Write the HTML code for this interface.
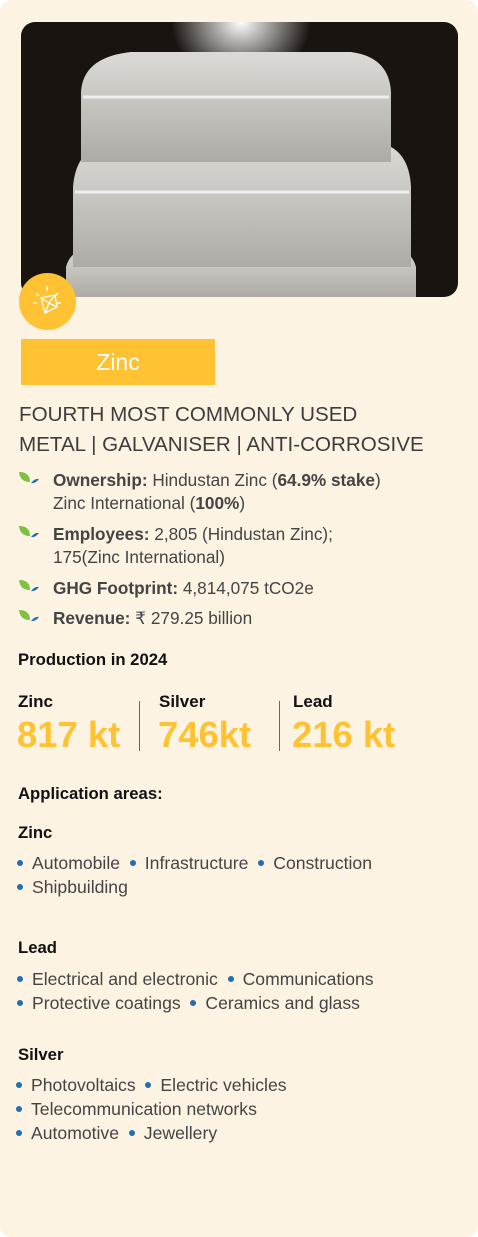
<!DOCTYPE html>
<html><head><meta charset="utf-8"><style>
body{margin:0;width:478px;height:1237px;background:#fff;font-family:"Liberation Sans",sans-serif;color:#3a3a3a;}
#card{position:absolute;left:0;top:0;width:478px;height:1237px;background:#fdf3e2;border-radius:12px;overflow:hidden}
.a{position:absolute;white-space:nowrap}
.t{font-size:17.2px;line-height:23px;color:#444}
.leaf{position:absolute;width:22px;height:14px}
.dot{display:inline-block;width:6px;height:6px;border-radius:50%;background:#1f6fb2;margin:0 9px 2px 0;vertical-align:middle}
.h{font-size:16.7px;font-weight:bold;color:#111}
.big{font-size:36.4px;font-weight:bold;color:#fec232}
.lbl{font-size:17px;font-weight:bold;color:#111}
.ap{font-size:17.6px;line-height:24px;color:#444}
</style></head><body>
<div id="card">
<svg class="a" style="left:21px;top:22px" width="437" height="275">
<defs><clipPath id="c"><rect width="437" height="275" rx="14"/></clipPath>
<radialGradient id="g" cx="0.5" cy="0" r="0.5"><stop offset="0" stop-color="#fff"/><stop offset="1" stop-color="#fff" stop-opacity="0"/></radialGradient>
<linearGradient id="m" x1="0" y1="0" x2="0" y2="1"><stop offset="0" stop-color="#dcdad6"/><stop offset="1" stop-color="#aeaba6"/></linearGradient></defs>
<g clip-path="url(#c)"><rect width="437" height="275" fill="#1a1411"/>
<rect x="150" y="0" width="140" height="120" fill="url(#g)"/>
<path d="M45 245 Q50 225 80 222 L360 222 Q390 225 395 245 L395 275 L45 275Z" fill="url(#m)"/>
<path d="M52 165 Q55 125 90 120 L355 120 Q388 125 390 165 L390 245 L52 245Z" fill="url(#m)"/>
<path d="M60 70 Q62 35 110 30 L330 30 Q368 35 370 70 L370 140 L60 140Z" fill="url(#m)"/>
<path d="M62 75 L368 75" stroke="#eee" stroke-width="3"/>
<path d="M54 170 L388 170" stroke="#eee" stroke-width="3"/></g></svg>
<svg class="a" style="left:19px;top:273px" width="57" height="57">
<circle cx="28.5" cy="28.5" r="28.5" fill="#fec232"/>
<path d="M22 25 L36 22 L38 34 L26 40 Z M36 22 L30 30 L22 25 M30 30 L38 34 M30 30 L26 40" fill="none" stroke="#fff" stroke-width="1.3"/>
<path d="M28 13v5 M17 20l3 3 M39 20l-3 3 M14 30h4 M38 30h4" stroke="#fff" stroke-width="1.3"/></svg>
<div class="a" style="left:21px;top:339px;width:194px;height:46px;background:#fec232;color:#fff;font-size:23px;line-height:46px;text-align:center">Zinc</div>
<div class="a" style="left:19px;top:400px;font-size:20.6px;line-height:30px;color:#3d3d3d">FOURTH MOST COMMONLY USED<br>METAL | GALVANISER | ANTI-CORROSIVE</div>

<svg class="leaf" style="left:18px;top:471px"><path d="M1 1 Q12 1 12 11 Q2 11 1 1Z" fill="#7cc142"/><path d="M13 12 Q17 7 21 8 Q17 13 13 12Z" fill="#1f6fb2"/></svg>
<div class="a t" style="left:53px;top:469px"><b>Ownership:</b> Hindustan Zinc (<b>64.9% stake</b>)<br>Zinc International (<b>100%</b>)</div>
<svg class="leaf" style="left:18px;top:525px"><path d="M1 1 Q12 1 12 11 Q2 11 1 1Z" fill="#7cc142"/><path d="M13 12 Q17 7 21 8 Q17 13 13 12Z" fill="#1f6fb2"/></svg>
<div class="a t" style="left:53px;top:523px"><b>Employees:</b> 2,805 (Hindustan Zinc);<br>175(Zinc International)</div>
<svg class="leaf" style="left:18px;top:579px"><path d="M1 1 Q12 1 12 11 Q2 11 1 1Z" fill="#7cc142"/><path d="M13 12 Q17 7 21 8 Q17 13 13 12Z" fill="#1f6fb2"/></svg>
<div class="a t" style="left:53px;top:577px"><b>GHG Footprint:</b> 4,814,075 tCO2e</div>
<svg class="leaf" style="left:18px;top:609px"><path d="M1 1 Q12 1 12 11 Q2 11 1 1Z" fill="#7cc142"/><path d="M13 12 Q17 7 21 8 Q17 13 13 12Z" fill="#1f6fb2"/></svg>
<div class="a t" style="left:53px;top:607px"><b>Revenue:</b> ₹ 279.25 billion</div>

<div class="a h" style="left:18px;top:650px">Production in 2024</div>
<div class="a lbl" style="left:18px;top:692px">Zinc</div>
<div class="a big" style="left:17px;top:714px">817 kt</div>
<div class="a" style="left:139px;top:701px;width:1px;height:50px;background:#666"></div>
<div class="a lbl" style="left:159px;top:692px">Silver</div>
<div class="a big" style="left:158px;top:714px">746kt</div>
<div class="a" style="left:279px;top:701px;width:1px;height:50px;background:#666"></div>
<div class="a lbl" style="left:293px;top:692px">Lead</div>
<div class="a big" style="left:292px;top:714px">216 kt</div>

<div class="a h" style="left:18px;top:784px">Application areas:</div>
<div class="a h" style="left:18px;top:823px">Zinc</div>
<div class="a ap" style="left:17px;top:851px"><span class="dot"></span>Automobile &nbsp;<span class="dot"></span>Infrastructure &nbsp;<span class="dot"></span>Construction<br><span class="dot"></span>Shipbuilding</div>
<div class="a h" style="left:18px;top:938px">Lead</div>
<div class="a ap" style="left:17px;top:967px"><span class="dot"></span>Electrical and electronic &nbsp;<span class="dot"></span>Communications<br><span class="dot"></span>Protective coatings &nbsp;<span class="dot"></span>Ceramics and glass</div>
<div class="a h" style="left:18px;top:1045px">Silver</div>
<div class="a ap" style="left:16px;top:1073px"><span class="dot"></span>Photovoltaics &nbsp;<span class="dot"></span>Electric vehicles<br><span class="dot"></span>Telecommunication networks<br><span class="dot"></span>Automotive &nbsp;<span class="dot"></span>Jewellery</div>
</div>
</body></html>
